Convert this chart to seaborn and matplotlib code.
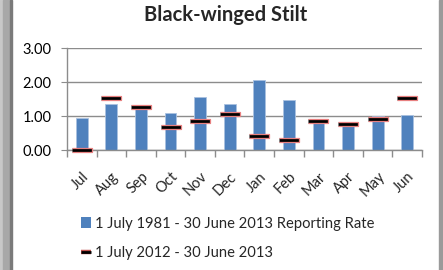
"""Black-winged Stilt reporting rate: long-term bars vs 2012-13 season markers."""
import matplotlib.patheffects as pe
import matplotlib.pyplot as plt
import numpy as np
import seaborn as sns
from matplotlib.lines import Line2D
from matplotlib.patches import Patch, Rectangle

months = ["Jul", "Aug", "Sep", "Oct", "Nov", "Dec",
          "Jan", "Feb", "Mar", "Apr", "May", "Jun"]
long_term = [0.95, 1.34, 1.25, 1.09, 1.56, 1.34, 2.06, 1.48, 0.82, 0.72, 1.00, 1.03]
season_2013 = [0.00, 1.52, 1.27, 0.68, 0.84, 1.05, 0.42, 0.30, 0.85, 0.76, 0.90, 1.52]
y_ticks = [0, 1, 2, 3]

bar_label = "1 July 1981 - 30 June 2013 Reporting Rate"
line_label = "1 July 2012 - 30 June 2013"

sns.set_style("white")
plt.rcParams["font.family"] = ["Lato", "DejaVu Sans"]

W, H = 443, 270
fig = plt.figure(figsize=(W / 100, H / 100), dpi=100)

# grey window frame at the sides
for x0, x1, c in [(0, 3, "#c8c8c8"), (3, 10, "#a8a8a8"), (10, 12, "#7a7a7a"),
                  (439, 443, "#9a9a9a")]:
    fig.patches.append(Rectangle((x0 / W, 0), (x1 - x0) / W, 1,
                                 transform=fig.transFigure, color=c, zorder=0))

ax = fig.add_axes([67 / W, 1 - 150 / H, (422 - 67) / W, 102 / H])

sns.barplot(x=months, y=long_term, color="#4F81BD", saturation=1, width=0.4,
            edgecolor="#A9C1E0", linewidth=0.6, ax=ax, zorder=2)

bar_marker = [(-1, -0.19), (1, -0.19), (1, 0.19), (-1, 0.19)]
sns.scatterplot(x=months, y=season_2013, marker=bar_marker, s=200,
                color="black", edgecolor="#E88080", linewidth=0.9,
                joinstyle="miter", ax=ax, zorder=3, clip_on=False,
                legend=False)

ax.set_ylim(0, 3)
ax.set_xlim(-0.5, 11.5)
ax.set_yticks(y_ticks)
ax.set_yticklabels([f"{v:.2f}" for v in y_ticks])
ax.yaxis.grid(True, color="#8c8c8c", linewidth=1)
ax.set_axisbelow(True)

for s in ["top", "right"]:
    ax.spines[s].set_visible(False)
for s in ["left", "bottom"]:
    ax.spines[s].set_color("#8c8c8c")
    ax.spines[s].set_linewidth(1)

ax.tick_params(axis="y", left=True, length=4, color="#8c8c8c", pad=7,
               labelsize=10.5, labelcolor="black")
ax.set_xticks(np.arange(len(months)))
ax.set_xticklabels(months, rotation=45, ha="right", rotation_mode="anchor")
ax.tick_params(axis="x", which="major", length=0, pad=14, labelsize=10.5)
ax.set_xticks(np.arange(-0.5, len(months), 1), minor=True)
ax.tick_params(axis="x", which="minor", bottom=True, length=5,
               color="#8c8c8c", width=1)
ax.set_xlabel("")
ax.set_ylabel("")

fig.text(226 / W, 1 - 15 / H, "Black-winged Stilt", ha="center", va="center",
         fontsize=14.5, fontweight="bold")

handles = [
    Patch(facecolor="#4F81BD", edgecolor="none"),
    Line2D([], [], color="black", linewidth=2, solid_capstyle="butt",
           path_effects=[pe.Stroke(linewidth=3.2, foreground="#C0504D",
                                   capstyle="butt"), pe.Normal()]),
]
fig.legend(handles, [bar_label, line_label], loc="upper left",
           bbox_to_anchor=(81 / W, 1 - 217 / H), frameon=False, fontsize=10.6,
           handlelength=0.65, handleheight=0.75, handletextpad=0.3,
           labelspacing=1.05, borderaxespad=0, borderpad=0)

fig.savefig("out.png", dpi=100)
